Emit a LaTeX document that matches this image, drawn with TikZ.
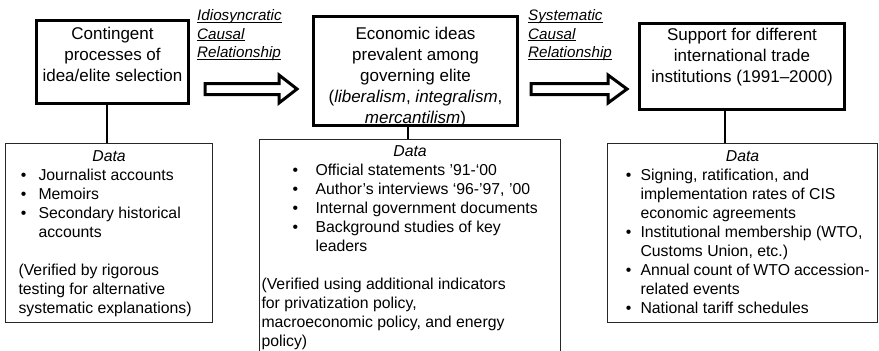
\documentclass[tikz,border=0pt]{standalone}
\usepackage{fontspec}
\setmainfont{Liberation Sans}
\usetikzlibrary{calc}

\newlength\bulx
\newlength\txtx
\newsavebox\ulbox
% bullet line with hanging indent
\newcommand\bitem{\par\hangindent=\txtx\hangafter=1\noindent\hspace*{\bulx}\makebox[\dimexpr\txtx-\bulx\relax][l]{\textbullet}}
\newcommand\ulword[1]{\leavevmode\sbox\ulbox{#1}\rlap{\rule[-2pt]{\wd\ulbox}{1.1pt}}\usebox\ulbox}

\begin{document}
\begin{tikzpicture}[x=1pt,y=-1pt,
    mainbox/.style={draw,line width=3pt,inner sep=0pt,anchor=north west,font=\fontsize{17}{21}\selectfont},
    databox/.style={draw=black!85,line width=1.1pt,inner ysep=0pt,anchor=north west,font=\fontsize{15.8}{19}\selectfont},
    link/.style={line width=1.1pt},
    fatarrow/.style={draw,line width=3pt,fill=white,line join=miter},
    causal/.style={inner sep=0pt,anchor=north west,font=\fontsize{15.2}{18.5}\selectfont\itshape}]
  \useasboundingbox (0,0) rectangle (879,351);
  \clip (0,0) rectangle (879,351);

  % top row
  \node[mainbox] (proc) at (35,19) {\parbox[t][83pt][t]{152pt}{\centering\rule{0pt}{19pt}Contingent\\processes of\\idea/elite selection}};
  \node[mainbox] (ideas) at (312,15) {\parbox[t][109pt][t]{204pt}{\centering\rule{0pt}{23pt}Economic ideas\\prevalent among\\governing elite\\(\textit{liberalism}, \textit{integralism},\\\textit{mercantilism})}};
  \node[mainbox] (trade) at (638,22) {\parbox[t][86pt][t]{205pt}{\centering\rule{0pt}{17pt}Support for different\\international trade\\institutions (1991–2000)}};

  \node[causal] (idio) at (197,9) {\parbox[t]{100pt}{\raggedright\rule{0pt}{11.7pt}\ulword{Idiosyncratic}\\\ulword{Causal}\\\ulword{Relationship}}};
  \node[causal] (syst) at (528,9) {\parbox[t]{100pt}{\raggedright\rule{0pt}{11.7pt}\ulword{Systematic}\\\ulword{Causal}\\\ulword{Relationship}}};

  \coordinate (a1) at ($(proc.east |- 0,89)+(15,0)$);
  \coordinate (b1) at ($(ideas.west |- 0,89)+(-15,0)$);
  \coordinate (a2) at ($(ideas.east |- 0,89)+(12,0)$);
  \coordinate (b2) at ($(trade.west |- 0,89)+(-11,0)$);
  \draw[fatarrow] let \p1=(a1), \p2=(b1) in (\x1,\y1+5.5pt) -- (\x2-18pt,\y1+5.5pt) -- (\x2-18pt,\y1+14pt) -- (\x2,\y1) -- (\x2-18pt,\y1-14pt) -- (\x2-18pt,\y1-5.5pt) -- (\x1,\y1-5.5pt) -- cycle;
  \draw[fatarrow] let \p1=(a2), \p2=(b2) in (\x1,\y1+5.5pt) -- (\x2-19pt,\y1+5.5pt) -- (\x2-19pt,\y1+14pt) -- (\x2,\y1) -- (\x2-19pt,\y1-14pt) -- (\x2-19pt,\y1-5.5pt) -- (\x1,\y1-5.5pt) -- cycle;

  % data boxes
  \node[databox,inner xsep=13pt] (procdata) at (5,143) {\parbox[t][179pt][t]{181pt}{%
    \setlength\bulx{2.2pt}\setlength\txtx{20pt}%
    {\centering\rule{0pt}{17.7pt}\itshape Data\par}
    \raggedright
    \bitem Journalist accounts
    \bitem Memoirs
    \bitem Secondary historical\newline accounts
    \par\vspace{19pt}
    (Verified by rigorous\\testing for alternative\\systematic explanations)}};
  \node[databox,inner xsep=2pt] (ideasdata) at (259,139) {\parbox[t][230pt][t]{297pt}{%
    \setlength\bulx{31pt}\setlength\txtx{54pt}%
    {\centering\rule{0pt}{16.7pt}\itshape Data\par}
    \raggedright
    \bitem Official statements ’91-‘00
    \bitem Author’s interviews ‘96-’97, ’00
    \bitem Internal government documents
    \bitem Background studies of key\newline leaders
    \par\vspace{19pt}
    (Verified using additional indicators\\for privatization policy,\\macroeconomic policy, and energy\\policy)}};
  \node[databox,inner xsep=8pt] (tradedata) at (607,143) {\parbox[t][179pt][t]{254pt}{%
    \setlength\bulx{10.2pt}\setlength\txtx{25pt}%
    {\centering\rule{0pt}{17.7pt}\itshape Data\par}
    \raggedright
    \bitem Signing, ratification, and\newline implementation rates of CIS\newline economic agreements
    \bitem Institutional membership (WTO,\newline Customs Union, etc.)
    \bitem Annual count of WTO accession-\newline related events
    \bitem National tariff schedules}};

  \coordinate (p1) at ($(proc.south west)+(72,0)$);
  \coordinate (p2) at ($(ideas.south west)+(96,0)$);
  \coordinate (p3) at ($(trade.south west)+(87,0)$);
  \draw[link] (p1) -- (p1 |- procdata.north);
  \draw[link] (p2) -- (p2 |- ideasdata.north);
  \draw[link] (p3) -- (p3 |- tradedata.north);
\end{tikzpicture}
\end{document}
